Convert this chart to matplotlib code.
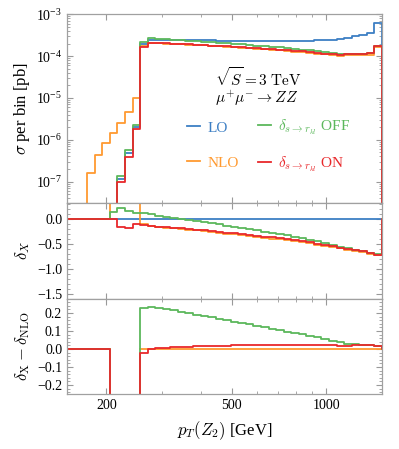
import numpy as np
import matplotlib
matplotlib.use('Agg')
from matplotlib import pyplot as plt
from matplotlib.lines import Line2D
from matplotlib.ticker import FixedLocator, NullFormatter, LogLocator, MultipleLocator

plt.rcParams['font.family'] = 'serif'
plt.rcParams['font.serif'] = ['Liberation Serif', 'DejaVu Serif']
plt.rcParams['mathtext.fontset'] = 'cm'

# log spaced bins in pT(Z2) [GeV], last edge at 1.5 TeV
edges = np.geomspace(147.3, 1500, 43)

# LO cross section per bin [pb]
lo = np.array([0, 0, 0, 0, 0, 0, 0,
               1.15e-7, 4.9e-7, 2.06e-6,
               1.92e-4, 2.45e-4, 2.44e-4, 2.43e-4, 2.42e-4, 2.41e-4, 2.40e-4, 2.39e-4,
               2.39e-4, 2.38e-4, 2.37e-4, 2.36e-4, 2.36e-4, 2.35e-4, 2.35e-4, 2.34e-4,
               2.34e-4, 2.34e-4, 2.34e-4, 2.34e-4, 2.34e-4, 2.35e-4, 2.36e-4, 2.38e-4,
               2.41e-4, 2.46e-4, 2.55e-4, 2.76e-4, 3.03e-4, 3.26e-4, 3.63e-4, 6.1e-4])

# NLO below the LO threshold (first 10 bins)
nlo_thr = np.array([0, 0, 0, 1.64e-7, 4.3e-7, 8.3e-7, 1.48e-6, 2.57e-6, 4.55e-6, 1.02e-5])

# relative corrections delta_X (5 = off the top of the panel)
d_nlo = np.array([0, 0, 0, 0, 0, 0, 5, 5, 5, 5,
                  -0.108, -0.143, -0.162, -0.175, -0.189, -0.203, -0.218, -0.232,
                  -0.246, -0.262, -0.278, -0.295, -0.312, -0.328, -0.345, -0.361,
                  -0.377, -0.394, -0.412, -0.430, -0.447, -0.469, -0.491, -0.516,
                  -0.540, -0.568, -0.594, -0.618, -0.648, -0.672, -0.700, -0.732])
d_off = np.array([0, 0, 0, 0, 0, 0, 0.148, 0.216, 0.168, 0.128,
                  0.117, 0.089, 0.066, 0.047, 0.026, 0.004, -0.020, -0.042,
                  -0.064, -0.087, -0.111, -0.135, -0.160, -0.184, -0.208, -0.232,
                  -0.256, -0.281, -0.307, -0.333, -0.358, -0.388, -0.418, -0.452,
                  -0.484, -0.521, -0.557, -0.590, -0.621, -0.648, -0.679, -0.714])
d_on = np.array([0, 0, 0, 0, 0, 0, 0, -0.155, -0.190, -0.110,
                 -0.130, -0.145, -0.158, -0.168, -0.180, -0.192, -0.205, -0.217,
                 -0.230, -0.245, -0.260, -0.276, -0.292, -0.308, -0.324, -0.340,
                 -0.355, -0.372, -0.390, -0.407, -0.425, -0.447, -0.470, -0.495,
                 -0.520, -0.548, -0.575, -0.600, -0.625, -0.650, -0.680, -0.715])

c_lo, c_nlo, c_off, c_on = '#3d7fc4', '#ff9a30', '#5cb85c', '#e8282b'
labels = ['LO', 'NLO', r'$\delta_{s\to r_{kl}}$ OFF', r'$\delta_{s\to r_{kl}}$ ON']

# top panel
sig_lo = lo
sig_nlo = lo * (1 + d_nlo)
sig_nlo[:10] = nlo_thr
sig_off = lo * (1 + d_off)
sig_on = lo * (1 + d_on)

# bottom panel
r_nlo = np.where(d_nlo > 1, np.nan, 0.0)
r_off = d_off - d_nlo
r_on = d_on - d_nlo


def steps(vals):
    # histogram outline, closes to zero after the last bin
    e = np.append(edges, edges[-1] * 1.1)
    v = np.append(vals, 0.0)
    return np.repeat(e, 2)[1:-1], np.repeat(v, 2)


fig = plt.figure(figsize=(3.99, 4.49), dpi=100)
ax1 = fig.add_axes([0.168, 0.548, 0.789, 0.420])
ax2 = fig.add_axes([0.168, 0.335, 0.789, 0.213], sharex=ax1)
ax3 = fig.add_axes([0.168, 0.1225, 0.789, 0.2125], sharex=ax1)

lw = 1.3
for ax, series in [(ax1, [sig_lo, sig_nlo, sig_off, sig_on]),
                   (ax2, [np.zeros_like(lo), d_nlo, d_off, d_on]),
                   (ax3, [None, r_nlo, r_off, r_on])]:
    for vals, c in zip(series, [c_lo, c_nlo, c_off, c_on]):
        if vals is None:
            continue
        x, y = steps(vals)
        ax.plot(x, y, color=c, lw=lw)

ax1.set_yscale('log')
ax1.set_xscale('log')
ax1.set_xlim(150, 1500)
ax1.set_ylim(3.1e-8, 1e-3)
ax1.yaxis.set_major_locator(LogLocator(base=10))
ax1.yaxis.set_minor_locator(LogLocator(base=10, subs=np.arange(2, 10)))
ax1.yaxis.set_minor_formatter(NullFormatter())

ax2.set_ylim(-1.6, 0.32)
ax2.set_yticks([0.0, -0.5, -1.0, -1.5])
ax2.yaxis.set_minor_locator(MultipleLocator(0.1))

ax3.set_ylim(-0.25, 0.28)
ax3.set_yticks([-0.2, -0.1, 0.0, 0.1, 0.2])
ax3.yaxis.set_minor_locator(MultipleLocator(0.02))

ax3.set_xticks([200, 500, 1000])
ax3.set_xticklabels(['200', '500', '1000'])
ax3.xaxis.set_minor_locator(FixedLocator([300, 400, 600, 700, 800, 900]))
ax3.xaxis.set_minor_formatter(NullFormatter())

for ax in (ax1, ax2, ax3):
    ax.tick_params(which='both', direction='in', top=True, right=True,
                   color='#999999', labelsize=10)
    ax.tick_params(which='major', length=4)
    ax.tick_params(which='minor', length=2)
    for s in ax.spines.values():
        s.set_color('#a0a0a0')
        s.set_linewidth(0.9)
for ax in (ax1, ax2):
    ax.tick_params(labelbottom=False)

ax1.set_ylabel(r'$\sigma$ per bin [pb]', fontsize=12)
ax2.set_ylabel(r'$\delta_X$', fontsize=12)
ax3.set_ylabel(r'$\delta_{\rm X}-\delta_{\rm NLO}$', fontsize=12)
for ax in (ax1, ax2, ax3):
    ax.yaxis.set_label_coords(-0.11, 0.5)
ax3.set_xlabel(r'$p_T(Z_2)$ [GeV]', fontsize=12, labelpad=5)

ax1.text(0.47, 0.668, r'$\sqrt{S}=3\ \mathrm{TeV}$', transform=ax1.transAxes,
         fontsize=11, va='center', ha='left')
ax1.text(0.47, 0.556, r'$\mu^{+}\mu^{-}\to ZZ$', transform=ax1.transAxes,
         fontsize=11, va='center', ha='left')

# legend: two columns as two legends so the rows line up
h = {c: Line2D([], [], color=c, lw=lw) for c in [c_lo, c_nlo, c_off, c_on]}
kw = dict(loc='center left', frameon=False, labelcolor='linecolor', fontsize=11,
          handlelength=0.85, handletextpad=0.5, borderpad=0, borderaxespad=0)
leg1 = ax1.legend([h[c_lo], h[c_nlo]], labels[:2], bbox_to_anchor=(0.381, 0.305),
                  labelspacing=1.4, **kw)
ax1.add_artist(leg1)
ax1.legend([h[c_off], h[c_on]], labels[2:], bbox_to_anchor=(0.606, 0.305),
           labelspacing=1.14, **kw)

fig.savefig('out.png', dpi=100)
